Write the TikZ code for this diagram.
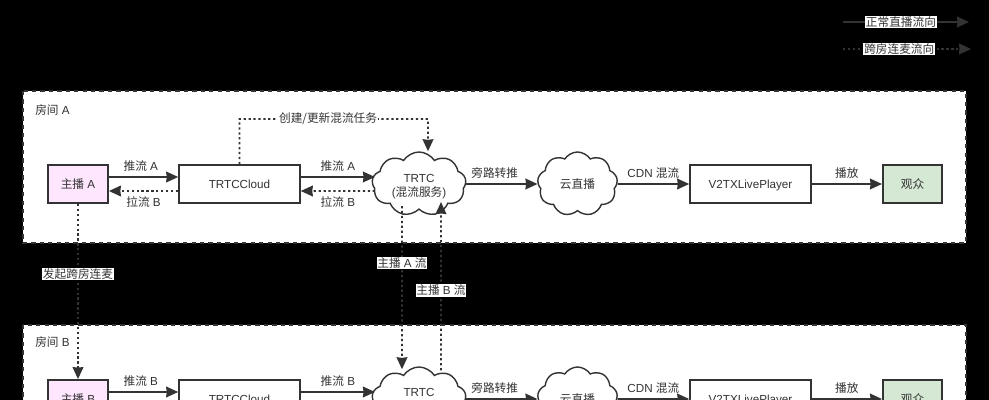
\documentclass[tikz,border=0pt]{standalone}
\usepackage{fontspec}
\setmainfont{Liberation Sans}
\newfontfamily\cjk{Noto Sans CJK SC}
\newcommand{\zh}[1]{{\cjk #1}}
\usetikzlibrary{arrows.meta,shapes.symbols}

\definecolor{linegray}{HTML}{333333}
\definecolor{hostpink}{HTML}{FFE6FF}
\definecolor{viewgreen}{HTML}{D5E8D4}

\tikzset{
  box/.style={rectangle, draw=linegray, line width=1.3pt, minimum height=0.95cm, inner sep=0pt, fill=white, text height=7.5pt, text depth=1pt},
  bulge/.style={cloud, cloud puffs=9, cloud puff arc=115, draw=linegray, line width=1pt, fill=white, inner xsep=-0.35cm, inner ysep=-0.25cm, align=center},
  room/.style={draw=linegray, line width=1pt, dashed, fill=white},
  flow/.style={->, >={Stealth[length=0.3cm,width=0.27cm,inset=0.4pt]}, draw=linegray, line width=1.1pt},
  dots/.style={flow, dash pattern=on 1.6pt off 1.9pt},
  tag/.style={fill=white, inner sep=0.6pt},
  upper/.style={yshift=0.175cm},
  lower/.style={yshift=-0.175cm}
}

\begin{document}
\begin{tikzpicture}[x=0.025cm, y=-0.025cm, font=\fontsize{8.3}{10}\selectfont, text=linegray]

\clip (0,0) rectangle (989,400);
\fill[black] (0,0) rectangle (989,400);

%Rooms
\filldraw[room] (23,91) rectangle (966,243);
\filldraw[room] (23,325) rectangle (966,420);
\node[anchor=west, inner sep=0pt] (roomA) at (35,110) {\zh{房间} A};
\node[anchor=west, inner sep=0pt] (roomB) at (35,342) {\zh{房间} B};

%Room A
\node[box, fill=hostpink, minimum width=1.5cm] (hostA) at (78,184) {\zh{主播} A};
\node[box, minimum width=3.02cm] (cloudappA) at (239.5,184) {TRTCCloud};
\node[bulge, minimum width=2.35cm, minimum height=1.6cm] (mixA) at (419,184) {\rule{0pt}{9.6pt}TRTC\\(\zh{混流服务})};
\node[bulge, minimum width=2cm, minimum height=1.6cm, text height=8pt, text depth=1pt] (cdnA) at (577.5,184) {\zh{云直播}};
\node[box, minimum width=3.02cm] (playerA) at (750.5,184) {V2TXLivePlayer};
\node[box, fill=viewgreen, minimum width=1.48cm] (viewerA) at (912.5,184) {\zh{观众}};

%Room B
\node[box, fill=hostpink, minimum width=1.5cm] (hostB) at (78,399) {\zh{主播} B};
\node[box, minimum width=3.02cm] (cloudappB) at (239.5,399) {TRTCCloud};
\node[bulge, minimum width=2.35cm, minimum height=1.6cm] (mixB) at (419,399) {\rule{0pt}{9.6pt}TRTC\\\strut};
\node[bulge, minimum width=2cm, minimum height=1.6cm, text height=8pt, text depth=1pt] (cdnB) at (577.5,399) {\zh{云直播}};
\node[box, minimum width=3.02cm] (playerB) at (750.5,399) {V2TXLivePlayer};
\node[box, fill=viewgreen, minimum width=1.48cm] (viewerB) at (912.5,399) {\zh{观众}};

%Flows in room A
\draw[flow] ([upper]hostA.east) -- ([upper]cloudappA.west) node[pos=.46,above] (pushA) {\zh{推流} A};
\draw[dots] ([lower]cloudappA.west) -- ([lower]hostA.east) node[midway,below] (pullA) {\zh{拉流} B};
\draw[flow] ([upper]cloudappA.east) -- ([upper,xshift=0.08cm]mixA.west) node[midway,above] (pushmixA) {\zh{推流} A};
\draw[dots] ([lower,xshift=0.08cm]mixA.west) -- ([lower]cloudappA.east) node[midway,below] (pullmixA) {\zh{拉流} B};
\draw[flow] (mixA.east) -- (cdnA.west) node[pos=.4,above] (bypassA) {\zh{旁路转推}};
\draw[flow] (cdnA.east) -- (playerA.west) node[midway,above] (mixcdnA) {CDN \zh{混流}};
\draw[flow] (playerA.east) -- (viewerA.west) node[midway,above] (playA) {\zh{播放}};

%Mix task
\coordinate (taskup) at (239.5,119);
\coordinate (taskdown) at (428,119);
\draw[dots] (cloudappA.north) -- (taskup) -- node[tag, pos=.47] (task) {\zh{创建/更新混流任务}} (taskdown) -- ([xshift=0.225cm]mixA.north);

%Flows in room B
\draw[flow] ([upper]hostB.east) -- ([upper]cloudappB.west) node[pos=.46,above] (pushB) {\zh{推流} B};
\draw[flow] ([upper]cloudappB.east) -- ([upper,xshift=0.08cm]mixB.west) node[midway,above] (pushmixB) {\zh{推流} B};
\draw[flow] (mixB.east) -- (cdnB.west) node[pos=.4,above] (bypassB) {\zh{旁路转推}};
\draw[flow] (cdnB.east) -- (playerB.west) node[midway,above] (mixcdnB) {CDN \zh{混流}};
\draw[flow] (playerB.east) -- (viewerB.west) node[midway,above] (playB) {\zh{播放}};

%Between rooms
\draw[dots] (hostA.south) -- (hostB.north) node[tag, pos=.4] (invite) {\zh{发起跨房连麦}};
\draw[dots] ([xshift=-0.425cm,yshift=0.1cm]mixA.south) -- ([xshift=-0.425cm,yshift=-0.075cm]mixB.north) node[tag, pos=.35] (streamA) {\zh{主播} A \zh{流}};
\draw[dots] ([xshift=0.55cm,yshift=-0.1cm]mixB.north) -- ([xshift=0.55cm,yshift=0.2cm]mixA.south) node[tag, pos=.475] (streamB) {\zh{主播} B \zh{流}};

%Legend
\coordinate (normalstart) at (843,22);
\coordinate (normalend) at (969,22);
\coordinate (crossstart) at (843,49);
\coordinate (crossend) at (971,49);
\draw[flow] (normalstart) -- (normalend) node[tag, pos=.46] (normal) {\zh{正常直播流向}};
\draw[dots] (crossstart) -- (crossend) node[tag, pos=.44] (cross) {\zh{跨房连麦流向}};

\end{tikzpicture}
\end{document}
